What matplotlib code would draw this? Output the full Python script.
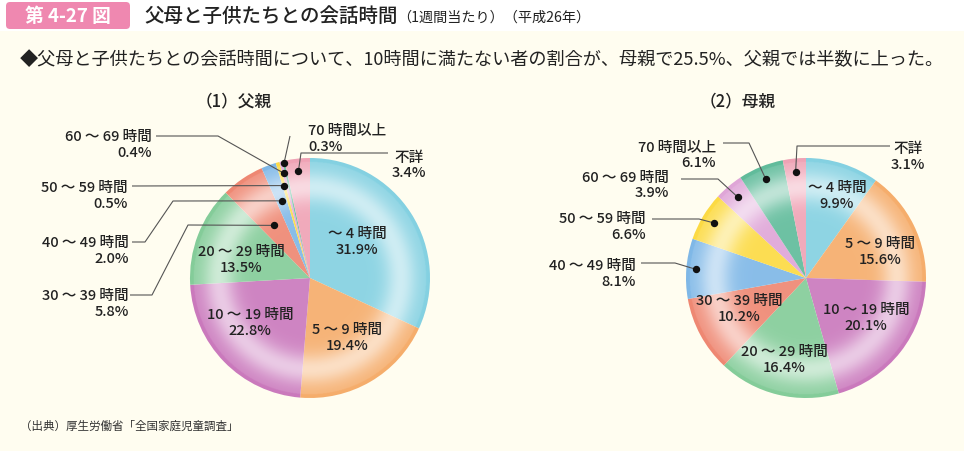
import matplotlib
matplotlib.use('Agg')
import matplotlib.pyplot as plt
import numpy as np
from matplotlib.patches import FancyBboxPatch, Rectangle, Circle

plt.rcParams['font.family'] = ['Noto Sans CJK JP', 'DejaVu Sans']

# ---------------- data ----------------
categories = ['～ 4 時間', '5 ～ 9 時間', '10 ～ 19 時間', '20 ～ 29 時間', '30 ～ 39 時間',
              '40 ～ 49 時間', '50 ～ 59 時間', '60 ～ 69 時間', '70 時間以上', '不詳']
father = [31.9, 19.4, 22.8, 13.5, 5.8, 2.0, 0.5, 0.4, 0.3, 3.4]
mother = [9.9, 15.6, 20.1, 16.4, 10.2, 8.1, 6.6, 3.9, 6.1, 3.1]
pie_titles = ['（1）父親', '（2）母親']
title = '父母と子供たちとの会話時間'
title_note = '（1週間当たり）（平成26年）'
badge = '第 4-27 図'
subtitle = '◆父母と子供たちとの会話時間について、10時間に満たない者の割合が、母親で25.5%、父親では半数に上った。'
source = '（出典）厚生労働省「全国家庭児童調査」'

colors = ['#7fcfe0', '#f5aa66', '#c874ba', '#7fca95', '#ee836d',
          '#7ab5e6', '#fcd93c', '#dea2d6', '#5ab997', '#ef9fb2']

# ---------------- layout ----------------
W, H = 964, 452
R = 120
def Y(py):
    return H - py

fig = plt.figure(figsize=(W / 100, H / 100), dpi=100)
fig.patch.set_facecolor('white')
ax = fig.add_axes([0, 0, 1, 1])
ax.axis('off')

ax.add_patch(Rectangle((0, 0), W, Y(32), facecolor='#fffdf0', edgecolor='none', zorder=0))
ax.add_patch(FancyBboxPatch((6, Y(30)), 124, 27, boxstyle='round,pad=0,rounding_size=4',
                            facecolor='#ef88b0', edgecolor='none', zorder=1))
ax.text(68, Y(16.5), badge, color='white', fontsize=13.5, fontweight='bold',
        ha='center', va='center', zorder=2)
ax.text(144, Y(16.5), title, color='#222222', fontsize=14, fontweight='medium',
        ha='left', va='center', zorder=2)
ax.text(397, Y(17.5), title_note, color='#222222', fontsize=10.2, ha='left', va='center', zorder=2)
ax.text(20, Y(60), subtitle, color='#222222', fontsize=13.1, ha='left', va='center', zorder=2)
ax.text(20, Y(426), source, color='#333333', fontsize=8.3, ha='left', va='center', zorder=2)

txtc = '#222222'
lblsize = 10.5
lblweight = 'medium'

pies = [
    dict(vals=father, center=(310, 279), title_pos=(234, 101),
         inside={0: (357, 242), 1: (347, 338), 2: (250, 323), 3: (241, 260)},
         outside={
             4: dict(pos=(129, 304), ha='right', path=[(130, 296), (152, 296), (188, 226)], rf=0.53),
             5: dict(pos=(129, 251), ha='right', path=[(132, 243), (145, 243), (173, 202)], rf=0.685),
             6: dict(pos=(128, 196), ha='right', path=[(132, 187)], rf=0.80),
             7: dict(pos=(152, 145), ha='right', path=[(156, 137), (218, 137)], rf=0.90),
             8: dict(pos=(308, 139), ha='left', path=[(290, 137)], rf=0.98),
             9: dict(pos=(409, 165.5), ha='center', path=[(388, 154), (301, 154)], rf=0.90),
         }),
    dict(vals=mother, center=(806, 279), title_pos=(738, 101),
         inside={0: (837, 196), 1: (880, 252), 2: (866, 318), 3: (784, 360), 4: (739, 309)},
         outside={
             5: dict(pos=(636, 274), ha='right', path=[(641, 264), (675, 264)], rf=0.92),
             6: dict(pos=(646, 227), ha='right', path=[(652, 220), (699, 220)], rf=0.89),
             7: dict(pos=(669, 185.5), ha='right', path=[(681, 180), (718, 180)], rf=0.88),
             8: dict(pos=(716, 155.5), ha='right', path=[(723, 144), (749, 144)], rf=0.89),
             9: dict(pos=(908, 157), ha='center', path=[(890, 147), (797, 147)], rf=0.89),
         }),
]

# radial highlight overlay
yy, xx = np.mgrid[-1:1:500j, -1:1:500j]
rr = np.hypot(xx, yy)
alpha = 0.12 + 0.5 * np.exp(-((rr - 0.76) / 0.13) ** 2)
alpha = np.where(rr > 0.97, alpha * 0.3, alpha)
overlay = np.ones((500, 500, 4))
overlay[..., 3] = np.clip(alpha, 0, 1)

for k, p in enumerate(pies):
    cx, cy = p['center']
    c = (cx, Y(cy))
    wedges, _ = ax.pie(p['vals'], colors=colors, startangle=90, counterclock=False,
                       center=c, radius=R, frame=True,
                       wedgeprops=dict(linewidth=0, antialiased=True))
    for w in wedges:
        w.set_zorder(2)
    im = ax.imshow(overlay, extent=(c[0] - R, c[0] + R, c[1] - R, c[1] + R),
                   zorder=3, interpolation='bilinear')
    im.set_clip_path(Circle(c, R, transform=ax.transData))

    tx, ty = p['title_pos']
    ax.text(tx, Y(ty), pie_titles[k], fontsize=12, fontweight='medium',
            color=txtc, ha='center', va='center', zorder=5)

    for i, (px, py) in p['inside'].items():
        ax.text(px, Y(py), f"{categories[i]}\n{p['vals'][i]}%", fontsize=lblsize,
                fontweight=lblweight, color=txtc,
                ha='center', va='center', multialignment='center', linespacing=1.15, zorder=5)

    for i, o in p['outside'].items():
        w = wedges[i]
        mid = np.deg2rad((w.theta1 + w.theta2) / 2)
        dx = c[0] + R * o['rf'] * np.cos(mid)
        dy = c[1] + R * o['rf'] * np.sin(mid)
        pts = [(x, Y(y)) for x, y in o['path']] + [(dx, dy)]
        xs, ys = zip(*pts)
        ax.plot(xs, ys, color='#555555', lw=0.8, zorder=4, solid_capstyle='butt')
        ax.plot([dx], [dy], 'o', color='#111111', markersize=4.3, zorder=6)
        px, py = o['pos']
        ax.text(px, Y(py), f"{categories[i]}\n{p['vals'][i]}%", fontsize=lblsize,
                fontweight=lblweight, color=txtc,
                ha=o['ha'], va='center', multialignment=o['ha'], linespacing=1.15, zorder=5)

ax.set_xlim(0, W)
ax.set_ylim(0, H)
ax.set_aspect('auto')
ax.axis('off')

fig.savefig('out.png', dpi=100, facecolor='white')
